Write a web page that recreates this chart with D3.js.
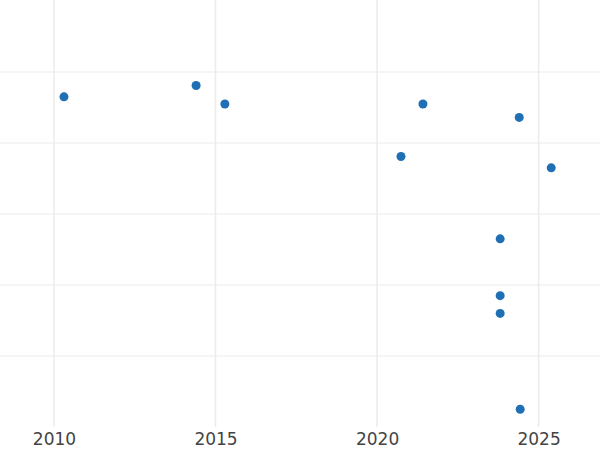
<!DOCTYPE html>
<html><head><meta charset="utf-8">
<script src="https://cdn.jsdelivr.net/npm/d3@7"></script>
<style>body{margin:0;background:#fff}</style></head>
<body><svg id="c" width="600" height="450"></svg>
<script>
const years = [2010.31, 2014.40, 2015.29, 2020.74, 2021.42, 2024.40, 2025.39, 2023.81, 2023.81, 2023.81, 2024.43];
const values = [4.65, 4.81, 4.55, 3.81, 4.55, 4.36, 3.65, 2.65, 1.85, 1.60, 0.25];
const xTicks = [2010, 2015, 2020, 2025];
const yGrid = [1, 2, 3, 4, 5];

const svg = d3.select("#c");
const x = d3.scaleLinear().domain([2008.33, 2026.9]).range([0, 600]);
const y = d3.scaleLinear().domain([0, 6]).range([427, 1]);

svg.append("g").selectAll("line").data(yGrid).join("line")
  .attr("x1", 0).attr("x2", 600).attr("y1", d => y(d)).attr("y2", d => y(d))
  .attr("stroke", "#ebebeb").attr("stroke-width", 1);
svg.append("g").selectAll("line").data(xTicks).join("line")
  .attr("x1", d => x(d)).attr("x2", d => x(d)).attr("y1", 0).attr("y2", 427)
  .attr("stroke", "#ebebeb").attr("stroke-width", 1.5);

const ax = svg.append("g").attr("transform", "translate(0,427)")
  .call(d3.axisBottom(x).tickValues(xTicks).tickFormat(d3.format("d")).tickSize(0).tickPadding(6));
ax.select(".domain").remove();
ax.selectAll("text").attr("font-family", "DejaVu Sans").attr("font-size", 17).attr("fill", "#444");

svg.append("g").selectAll("circle").data(years.map((yr, i) => [yr, values[i]])).join("circle")
  .attr("cx", d => x(d[0])).attr("cy", d => y(d[1])).attr("r", 4.5).attr("fill", "#1f6fb4");
</script></body></html>
